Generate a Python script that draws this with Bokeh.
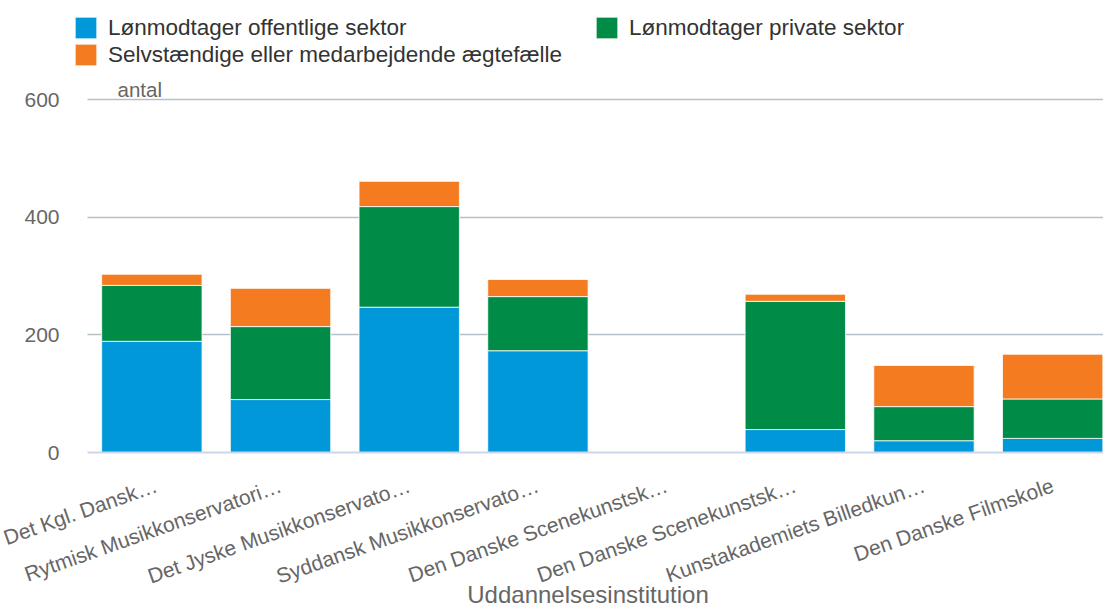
from bokeh.plotting import figure
from bokeh.models import (ColumnDataSource, Range1d, FixedTicker, Legend, LegendItem, Label)
from bokeh.embed import file_html
from bokeh.resources import INLINE

categories = ["Det Kgl. Dansk…", "Rytmisk Musikkonservatori…", "Det Jyske Musikkonservato…",
              "Syddansk Musikkonservato…", "Den Danske Scenekunstsk…", "Den Danske Scenekunstsk…",
              "Kunstakademiets Billedkun…", "Den Danske Filmskole"]
offentlig = [189, 90, 247, 173, 0, 39, 20, 24]
privat = [95, 124, 171, 92, 0, 218, 58, 67]
selvst = [19, 65, 43, 29, 0, 12, 70, 76]
series_names = ["Lønmodtager offentlige sektor", "Lønmodtager private sektor",
                "Selvstændige eller medarbejdende ægtefælle"]
colors = ["#0098D9", "#008C47", "#F47B20"]
y_ticks = [0, 200, 400, 600]

n = len(categories)
src = ColumnDataSource(dict(x=list(range(n)), off=offentlig, priv=privat, selv=selvst))

p = figure(width=1103, height=611, output_backend="svg", toolbar_location=None, title=None,
           x_range=Range1d(-0.6166, 7.395), y_range=Range1d(0, 768.3),
           min_border_left=72, min_border_right=0, min_border_top=0, min_border_bottom=159)
p.outline_line_color = None
p.background_fill_color = "white"

rs = p.vbar_stack(["off", "priv", "selv"], x="x", width=0.78, color=colors, source=src,
                  line_color="white", line_width=0.8)

# axes
xa = p.xaxis[0]
xa.ticker = FixedTicker(ticks=list(range(n)))
xa.bounds = (-0.5, n - 0.5)
xa.major_label_overrides = {i: c for i, c in enumerate(categories)}
xa.major_label_orientation = 0.34
xa.major_label_text_font = "Liberation Sans"
xa.major_label_text_font_size = "21px"
xa.major_label_text_color = "#666666"
xa.major_label_standoff = 26
xa.major_tick_line_color = None
xa.minor_tick_line_color = None
xa.axis_line_color = "#ccd6eb"
xa.axis_line_width = 2
xa.axis_label = "Uddannelsesinstitution"
xa.axis_label_text_font = "Liberation Sans"
xa.axis_label_text_font_size = "24px"
xa.axis_label_text_font_style = "normal"
xa.axis_label_text_color = "#666666"
xa.axis_label_standoff = -20

ya = p.yaxis[0]
ya.ticker = FixedTicker(ticks=y_ticks)
ya.axis_line_color = None
ya.major_tick_line_color = None
ya.minor_tick_line_color = None
ya.major_label_text_font = "Liberation Sans"
ya.major_label_text_font_size = "21px"
ya.major_label_text_color = "#666666"
ya.major_label_standoff = 7

p.xgrid.visible = False
p.ygrid.ticker = FixedTicker(ticks=y_ticks[1:])
p.ygrid.cross_bounds = (-0.5, n - 0.5)
p.ygrid.grid_line_color = "#b4c1c9"
p.ygrid.grid_line_width = 1.5

p.add_layout(Label(x=45, y=363, x_units="screen", y_units="screen", text="antal",
                   text_font="Liberation Sans", text_font_size="20.5px", text_color="#666666",
                   text_baseline="alphabetic"))

legend = Legend(items=[LegendItem(label=series_names[0], renderers=[rs[0]]),
                       LegendItem(label=series_names[2], renderers=[rs[2]]),
                       LegendItem(label=series_names[1], renderers=[rs[1]])],
                location=(0, 384), orientation="vertical", nrows=2,
                glyph_width=27, glyph_height=27, label_height=27, label_standoff=9,
                label_width=485, spacing=0, padding=0, margin=0, border_line_color=None,
                background_fill_alpha=0, label_text_font="Liberation Sans",
                label_text_font_size="22.5px", label_text_color="#333333")
p.add_layout(legend)

open("out.html", "w").write(file_html(p, INLINE))
